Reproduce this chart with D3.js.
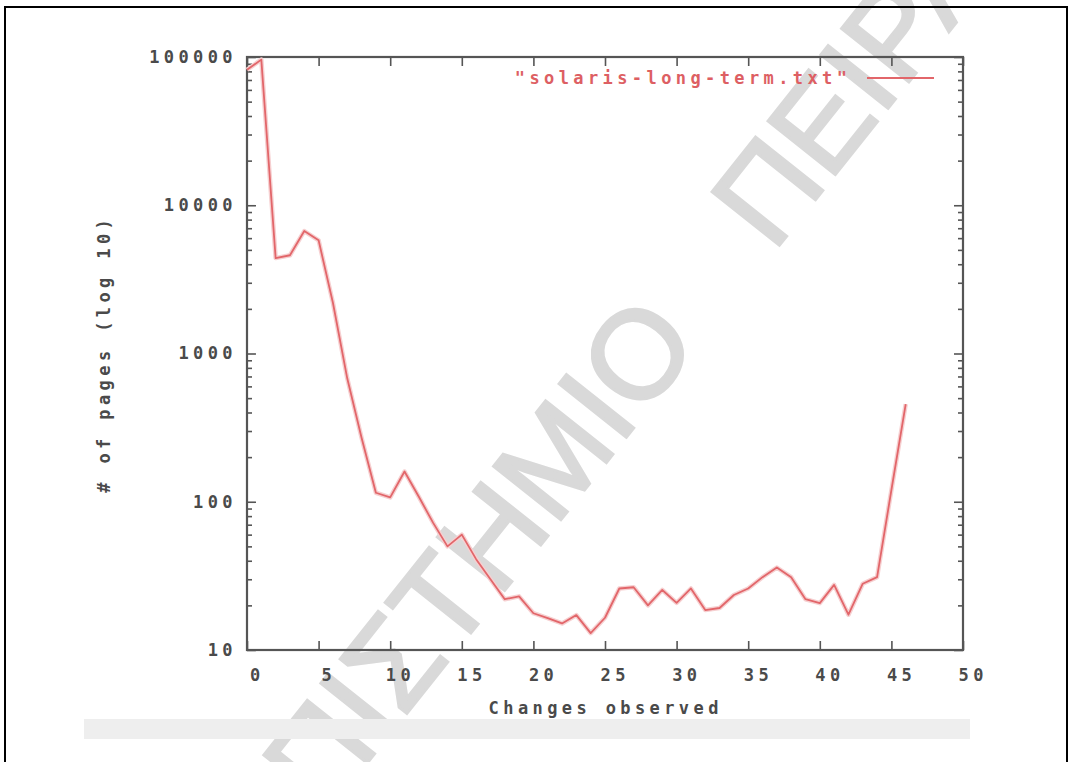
<!DOCTYPE html>
<html>
<head>
<meta charset="utf-8">
<script src="https://cdn.jsdelivr.net/npm/d3@7"></script>
<style>
  html, body { margin: 0; padding: 0; background: #fff; }
  svg { display: block; }
</style>
</head>
<body>
<div id="chart"></div>
<script>
// changes observed (x) and number of pages (y, log scale)
const changes = d3.range(0, 47);
const pages = [82000, 96000, 4400, 4600, 6700, 5800, 2200, 680, 270, 115,
  107, 160, 108, 72, 50, 60, 41, 30, 22, 23,
  17.7, 16.4, 15.1, 17.2, 13, 16.5, 26, 26.5, 20, 25.4,
  20.8, 26, 18.6, 19.2, 23.5, 26, 31, 36, 31, 22,
  20.7, 27.5, 17.3, 28, 31, 120, 455];
const xTicks = [0, 5, 10, 15, 20, 25, 30, 35, 40, 45, 50];
const yTicks = [10, 100, 1000, 10000, 100000];
const seriesName = '"solaris-long-term.txt"';
const xTitle = "Changes observed";
const yTitle = "# of pages (log 10)";
const watermark = "ΠΑΝΕΠΙΣΤΗΜΙΟ ΠΕΙΡΑΙΩΣ";

const width = 1072, height = 762;
const frame = { left: 247, right: 963, top: 57, bottom: 650 };
const axisColor = "#555";
const textColor = "#4a4a4a";
const lineColor = "#e2666a";
const mono = "'DejaVu Sans Mono', 'Liberation Mono', monospace";

const svg = d3.select("#chart").append("svg")
  .attr("width", width)
  .attr("height", height);

// watermark, sits under the plot
const wmSize = 125;
const wm = svg.append("g");
const wmText = wm.append("text")
  .text(watermark)
  .attr("font-family", "'Liberation Sans', Arial, sans-serif")
  .attr("font-size", wmSize)
  .attr("word-spacing", 80)
  .attr("fill", "#d9d9d9")
  .attr("stroke", "#d9d9d9")
  .attr("stroke-width", 3);
const oBox = wmText.node().getExtentOfChar(11);
const ocx = oBox.x + oBox.width / 2, ocy = -0.36 * wmSize;
wm.attr("transform", `translate(636,353) rotate(-51.5) translate(${-ocx},${-ocy})`);

// faint scan band below the chart
svg.append("rect")
  .attr("x", 84).attr("y", 719)
  .attr("width", 886).attr("height", 20)
  .attr("fill", "#eeeeee");

const x = d3.scaleLinear().domain([0, 50]).range([frame.left, frame.right]);
const y = d3.scaleLog().domain([10, 100000]).range([frame.bottom, frame.top]);

const minorY = [];
[10, 100, 1000, 10000].forEach(d => {
  for (let k = 2; k <= 9; k++) minorY.push(d * k);
});

const styleAxis = g => {
  g.select(".domain").remove();
  g.selectAll(".tick line").attr("stroke", axisColor).attr("stroke-width", 1.6);
  g.selectAll(".tick text")
    .attr("fill", textColor)
    .attr("font-family", mono)
    .attr("font-size", 17)
    .attr("font-weight", "bold")
    .attr("letter-spacing", 4.4);
};

// left axis, major + minor ticks pointing inward
svg.append("g")
  .attr("transform", `translate(${frame.left},0)`)
  .call(d3.axisLeft(y).tickValues(yTicks).tickFormat(d3.format("d"))
    .tickSizeInner(-9).tickSizeOuter(0).tickPadding(10))
  .call(styleAxis);
svg.append("g")
  .attr("transform", `translate(${frame.left},0)`)
  .call(d3.axisLeft(y).tickValues(minorY).tickFormat("")
    .tickSizeInner(-5).tickSizeOuter(0))
  .call(styleAxis);

// right mirror ticks
svg.append("g")
  .attr("transform", `translate(${frame.right},0)`)
  .call(d3.axisRight(y).tickValues(yTicks).tickFormat("")
    .tickSizeInner(-9).tickSizeOuter(0))
  .call(styleAxis);
svg.append("g")
  .attr("transform", `translate(${frame.right},0)`)
  .call(d3.axisRight(y).tickValues(minorY).tickFormat("")
    .tickSizeInner(-5).tickSizeOuter(0))
  .call(styleAxis);

// bottom axis
svg.append("g")
  .attr("transform", `translate(0,${frame.bottom})`)
  .call(d3.axisBottom(x).tickValues(xTicks)
    .tickSizeInner(-9).tickSizeOuter(0).tickPadding(19))
  .call(styleAxis)
  .call(g => g.selectAll(".tick text").attr("dx", 9.7));

// top mirror ticks
svg.append("g")
  .attr("transform", `translate(0,${frame.top})`)
  .call(d3.axisTop(x).tickValues(xTicks).tickFormat("")
    .tickSizeInner(-9).tickSizeOuter(0))
  .call(styleAxis);

// plot border
svg.append("rect")
  .attr("x", frame.left).attr("y", frame.top)
  .attr("width", frame.right - frame.left)
  .attr("height", frame.bottom - frame.top)
  .attr("fill", "none")
  .attr("stroke", axisColor)
  .attr("stroke-width", 2.2);

// data line (soft halo first, like the blurred original)
const line = d3.line()
  .x(d => x(d[0]))
  .y(d => y(d[1]));
const series = changes.map((c, i) => [c, pages[i]]);

svg.append("path")
  .datum(series)
  .attr("d", line)
  .attr("fill", "none")
  .attr("stroke", "#f6d0d1")
  .attr("stroke-width", 4.5)
  .attr("stroke-linejoin", "round");
svg.append("path")
  .datum(series)
  .attr("d", line)
  .attr("fill", "none")
  .attr("stroke", lineColor)
  .attr("stroke-width", 1.8)
  .attr("stroke-linejoin", "round");

// legend
svg.append("text")
  .attr("x", 847 + 4.4).attr("y", 78)
  .attr("dy", "0.35em")
  .attr("text-anchor", "end")
  .attr("fill", "#dd5f63")
  .attr("font-family", mono)
  .attr("font-size", 17)
  .attr("font-weight", "bold")
  .attr("letter-spacing", 4.4)
  .text(seriesName);
svg.append("line")
  .attr("x1", 867).attr("x2", 934)
  .attr("y1", 78).attr("y2", 78)
  .attr("stroke", lineColor)
  .attr("stroke-width", 2.2);

// axis titles
svg.append("text")
  .attr("x", 603.5 + 2.2).attr("y", 708)
  .attr("dy", "0.35em")
  .attr("text-anchor", "middle")
  .attr("fill", textColor)
  .attr("font-family", mono)
  .attr("font-size", 17)
  .attr("font-weight", "bold")
  .attr("letter-spacing", 4.4)
  .text(xTitle);

svg.append("text")
  .attr("transform", "translate(104,356) rotate(-90)")
  .attr("dx", 2.2)
  .attr("dy", "0.35em")
  .attr("text-anchor", "middle")
  .attr("fill", textColor)
  .attr("font-family", mono)
  .attr("font-size", 17)
  .attr("font-weight", "bold")
  .attr("letter-spacing", 4.4)
  .text(yTitle);

// outer page border
svg.append("rect")
  .attr("x", 5).attr("y", 7)
  .attr("width", 1062).attr("height", 800)
  .attr("fill", "none")
  .attr("stroke", "#000")
  .attr("stroke-width", 2);
</script>
</body>
</html>
